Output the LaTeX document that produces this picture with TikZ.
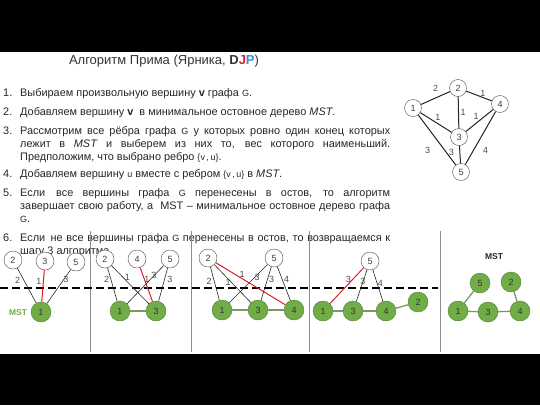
\documentclass[tikz,border=0pt]{standalone}
\usepackage{fontspec}
\setmainfont{Liberation Sans}
\usepackage{xcolor}

\definecolor{mstgreen}{RGB}{112,173,71}
\definecolor{mstdark}{RGB}{80,126,50}
\definecolor{mstline}{RGB}{125,150,100}
\definecolor{edgered}{RGB}{220,30,40}
\definecolor{djpblue}{RGB}{60,140,210}
\newcommand{\gsm}[1]{{\fontsize{9}{9}\selectfont #1}}

\begin{document}
\begin{tikzpicture}[x=1pt,y=-1pt,
  vnode/.style={circle,draw=black!70,fill=white,minimum size=17pt,inner sep=0pt,font=\fontsize{9}{9}\selectfont,text=black!75},
  wnode/.style={vnode,minimum size=18pt},
  gnode/.style={circle,draw=mstdark,fill=mstgreen,minimum size=20pt,inner sep=0pt,font=\fontsize{9}{9}\selectfont,text=black!80},
  wedge/.style={draw=black!85,line width=0.6pt},
  tedge/.style={draw=black!85,line width=1pt},
  redge/.style={draw=edgered,line width=1pt},
  gedge/.style={draw=mstline,line width=1.3pt},
  lbl/.style={font=\fontsize{9}{9}\selectfont,text=black!70,inner sep=0.5pt},
  steptext/.style={anchor=base west,text width=370pt,align=justify,inner sep=0pt,font=\fontsize{10.9}{13}\selectfont,text=black!85},
  stepno/.style={anchor=base west,inner sep=0pt,font=\fontsize{10.9}{13}\selectfont,text=black!85}]
\useasboundingbox (0,0) rectangle (540,405);
\fill (0,0) rectangle (540,52);
\fill (0,354) rectangle (540,405);

% Title and steps
\node[font=\fontsize{13}{13}\selectfont,text=black!80] (title) at (164,61)
  {Алгоритм Прима (Ярника, {\bfseries D\textcolor{edgered}{J}\textcolor{djpblue}{P}})};
\node[stepno] (n1) at (3,96) {1.};
\node[steptext] (s1) at (20,96) {Выбираем произвольную вершину \textbf{v} графа \gsm{G}.};
\node[stepno] (n2) at (3,115) {2.};
\node[steptext] (s2) at (20,115) {Добавляем вершину \textbf{v}\ \ в минимальное остовное дерево \textit{MST}.};
\node[stepno] (n3) at (3,134) {3.};
\node[steptext] (s3) at (20,134) {Рассмотрим все рёбра графа \gsm{G} у которых ровно один конец которых\linebreak
  лежит в \textit{MST} и выберем из них то, вес которого наименьший.\linebreak
  Предположим, что выбрано ребро \gsm{\{v\,,\,u\}}.};
\node[stepno] (n4) at (3,177) {4.};
\node[steptext] (s4) at (20,177) {Добавляем вершину \gsm{u} вместе с ребром \gsm{\{v\,,\,u\}} в \textit{MST}.};
\node[stepno] (n5) at (3,196) {5.};
\node[steptext] (s5) at (20,196) {Если\quad все вершины графа \gsm{G} перенесены в остов, то алгоритм\linebreak
  завершает свою работу, а\ \ MST -- минимальное остовное дерево графа\linebreak \gsm{G}.};
\node[stepno] (n6) at (3,241) {6.};
\node[steptext] (s6) at (20,241) {Если\enspace не все вершины графа \gsm{G} перенесены в остов, то возвращаемся к\linebreak
  шагу 3 алгоритма.};

% Graph G
\node[vnode] (g1) at (413,108) {1};
\node[vnode] (g2) at (458,88) {2};
\node[vnode] (g4) at (500,104) {4};
\node[vnode] (g3) at (459,137) {3};
\node[vnode] (g5) at (461,172) {5};
\draw[tedge] (g1) -- node[lbl,above=6pt] {2} (g2);
\draw[tedge] (g2) -- node[lbl,pos=0.65,above=0pt] {1} (g4);
\draw[tedge] (g1) -- node[lbl,pos=0.45,above right=0pt] {1} (g3);
\draw[tedge] (g2) -- node[lbl,right=1pt] {1} (g3);
\draw[tedge] (g3) -- node[lbl,above left=0pt] {1} (g4);
\draw[tedge] (g1) -- node[lbl,below left=6pt] {3} (g5);
\draw[tedge] (g3) -- node[lbl,pos=0.4,left=5pt] {3} (g5);
\draw[tedge] (g4) -- node[lbl,pos=0.58,below right=4pt] {4} (g5);

% Separators
\foreach \x in {90,191,309,440}
  \draw[black!45,line width=0.6pt] (\x,231) -- (\x,352);
\draw[line width=1.2pt,dash pattern=on 8pt off 4pt] (0,288) -- (438,288);

% Step a
\node[wnode] (a2) at (13,260) {2};
\node[wnode] (a3) at (45,261) {3};
\node[wnode] (a5) at (76,262) {5};
\node[gnode] (a1) at (41,312) {1};
\node[font=\fontsize{8.5}{8.5}\selectfont\bfseries,text=mstgreen] (amst) at (18,313) {MST};
\draw[wedge] (a2) -- node[lbl,pos=0.35,left=3pt] {2} (a1);
\draw[redge] (a3) -- node[lbl,pos=0.35,left=1pt] {1} (a1);
\draw[wedge] (a5) -- node[lbl,pos=0.3,right=-1pt] {3} (a1);

% Step b
\node[wnode] (b2) at (105,259) {2};
\node[wnode] (b4) at (137,259) {4};
\node[wnode] (b5) at (170,259) {5};
\node[gnode] (b1) at (120,311) {1};
\node[gnode] (b3) at (156,311) {3};
\draw[wedge] (b2) -- node[lbl,pos=0.35,left=1pt] {2} (b1);
\draw[wedge] (b2) -- node[lbl,pos=0.38,above right=-1.5pt] {1} (b3);
\draw[redge] (b4) -- node[lbl,pos=0.35,right=-1pt] {1} (b3);
\draw[wedge] (b5) -- node[lbl,pos=0.3,above right=-2pt] {3} (b1);
\draw[wedge] (b5) -- node[lbl,pos=0.35,right=2pt] {3} (b3);
\draw[gedge] (b1) -- (b3);

% Step c
\node[wnode] (c2) at (208,258) {2};
\node[wnode] (c5) at (274,258) {5};
\node[gnode] (c1) at (222,310) {1};
\node[gnode] (c3) at (258,310) {3};
\node[gnode] (c4) at (294,310) {4};
\draw[wedge] (c2) -- node[lbl,pos=0.44,left=2pt] {2} (c1);
\draw[wedge] (c2) -- node[lbl,pos=0.41,below left=-2pt] {1} (c3);
\draw[redge] (c2) -- node[lbl,pos=0.38,above=0pt] {1} (c4);
\draw[wedge] (c5) -- node[lbl,pos=0.33,right=-1pt] {3} (c1);
\draw[wedge] (c5) -- node[lbl,pos=0.38,right=1pt] {3} (c3);
\draw[wedge] (c5) -- node[lbl,pos=0.38,right=1pt] {4} (c4);
\draw[gedge] (c1) -- (c3);
\draw[gedge] (c3) -- (c4);

% Step d
\node[wnode] (d5) at (370,261) {5};
\node[gnode] (d1) at (323,311) {1};
\node[gnode] (d3) at (353,311) {3};
\node[gnode] (d4) at (386,311) {4};
\node[gnode] (d2) at (418,302) {2};
\draw[redge] (d5) -- node[lbl,pos=0.32,left=1pt] {3} (d1);
\draw[wedge] (d5) -- node[lbl,pos=0.38] {3} (d3);
\draw[wedge] (d5) -- node[lbl,pos=0.42,right=0pt] {4} (d4);
\draw[gedge] (d1) -- (d3);
\draw[gedge] (d3) -- (d4);
\draw[gedge] (d4) -- (d2);

% Result
\node[font=\fontsize{8.5}{8.5}\selectfont\bfseries,text=black!85] (emst) at (494,257) {MST};
\node[gnode] (e5) at (480,283) {5};
\node[gnode] (e2) at (511,282) {2};
\node[gnode] (e1) at (458,311) {1};
\node[gnode] (e3) at (488,312) {3};
\node[gnode] (e4) at (520,311) {4};
\draw[gedge] (e5) -- (e1);
\draw[gedge] (e1) -- (e3);
\draw[gedge] (e3) -- (e4);
\draw[gedge] (e4) -- (e2);
\end{tikzpicture}
\end{document}
